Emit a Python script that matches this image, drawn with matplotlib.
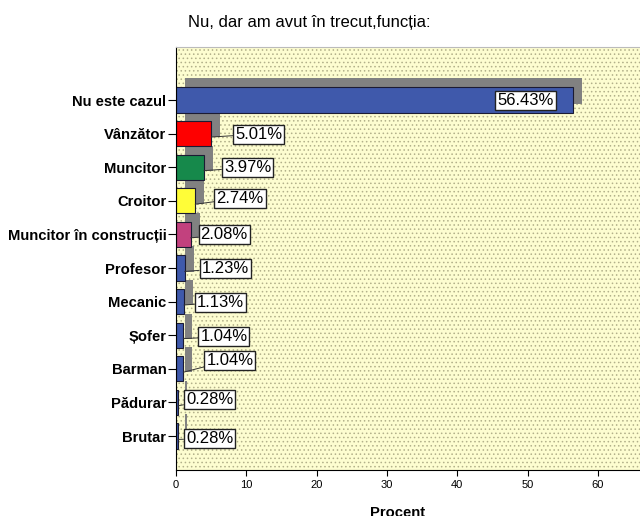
import numpy as np
import matplotlib
matplotlib.use("Agg")
import matplotlib.pyplot as plt
from matplotlib.patches import Rectangle

plt.rcParams['font.family'] = ['Liberation Sans', 'DejaVu Sans']
plt.rcParams['hatch.linewidth'] = 0.6

# data
categories = ['Nu este cazul', 'Vânzător', 'Muncitor', 'Croitor',
              'Muncitor în construcții', 'Profesor', 'Mecanic', 'Șofer',
              'Barman', 'Pădurar', 'Brutar']
values = [56.43, 5.01, 3.97, 2.74, 2.08, 1.23, 1.13, 1.04, 1.04, 0.28, 0.28]
labels = ['56.43%', '5.01%', '3.97%', '2.74%', '2.08%', '1.23%', '1.13%',
          '1.04%', '1.04%', '0.28%', '0.28%']
colors = ['#3f59ab', '#fe0000', '#16894b', '#fffd38', '#c2417e', '#3f59ab',
          '#3f59ab', '#3f59ab', '#3f59ab', '#3f59ab', '#3f59ab']

# label placement (pixels from bar end / bar centre)
lab_dx = [-19, 24, 20, 21, 10, 17, 13, 17, 23, 8, 8]
lab_dy = [0, 3, 3, 6, 3, 3, 3, 2, 12, 6, 1]

fig = plt.figure(figsize=(6.4, 5.16), dpi=100)
ax = fig.add_axes([176/640, 1-470/516, 1-176/640, (470-47)/516])

ax.set_xlim(0, 66)
ax.set_ylim(len(categories) - 1 + 1.01, -1.58)

# dotted yellow background
ax.set_facecolor('#fdfdd0')
ax.add_patch(Rectangle((0, 0), 1, 1, transform=ax.transAxes, facecolor='none',
                       edgecolor='#b2b08a', linewidth=0, hatch='....', zorder=0))

y = np.arange(len(categories))
h = 0.75
sx, sy = 1.28, -0.27
# shadows
ax.barh(y + sy, values, left=sx, height=h, color='#818181', zorder=1)
ax.barh(y, values, height=h, color=colors, edgecolor='#1b1b33', linewidth=0.8, zorder=2)

for i, (v, lab) in enumerate(zip(values, labels)):
    box = dict(boxstyle='square,pad=0.12', facecolor='white', edgecolor='#222222', linewidth=1.0)
    if i == 0:
        ax.annotate(lab, xy=(v, i), xytext=(lab_dx[i], 0), textcoords='offset pixels',
                    ha='right', va='center', fontsize=12, bbox=box, zorder=5)
    else:
        ax.annotate(lab, xy=(v, i + 0.1), xytext=(lab_dx[i], lab_dy[i]), textcoords='offset pixels',
                    ha='left', va='center', fontsize=12, bbox=box, zorder=5,
                    arrowprops=dict(arrowstyle='-', color='#333333', lw=0.7,
                                    shrinkA=0, shrinkB=0))

ax.set_yticks(y)
ax.set_yticklabels(categories, fontweight='bold', fontsize=10.6)
ax.set_xticks(np.arange(0, 61, 10))
ax.tick_params(axis='x', labelsize=8, length=4, width=0.8)
ax.tick_params(axis='y', length=6, width=0.8, pad=1)

ax.spines['right'].set_visible(False)
ax.spines['top'].set_color('#bbbbbb')
ax.spines['left'].set_linewidth(0.8)
ax.spines['bottom'].set_linewidth(0.8)

ax.set_xlabel('Procent', fontweight='bold', fontsize=10.6)
ax.xaxis.set_label_coords((398-176)/(640-176), -0.085)

fig.text(188/640, 1-22/516, 'Nu, dar am avut în trecut,funcția:', fontsize=12,
         ha='left', va='center')

fig.savefig('out.png', dpi=100)
